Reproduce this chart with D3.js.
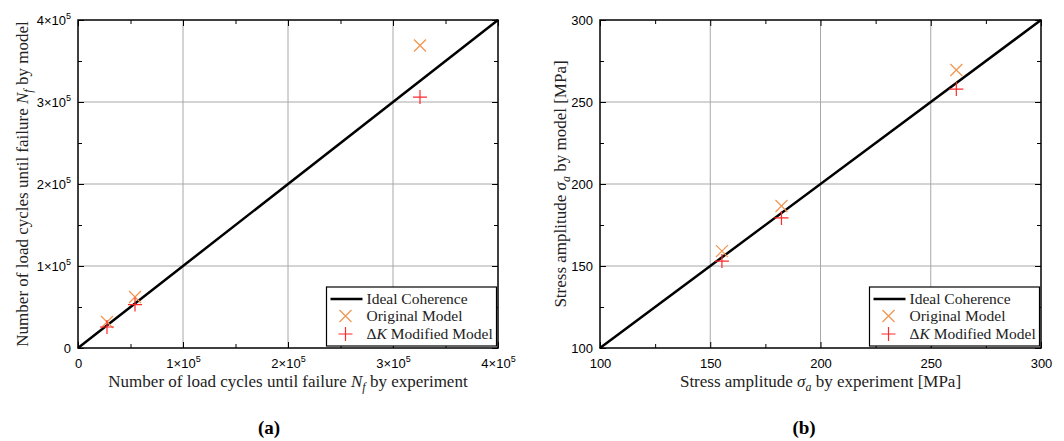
<!DOCTYPE html>
<html>
<head>
<meta charset="utf-8">
<script src="https://cdn.jsdelivr.net/npm/d3@7"></script>
<style>
  html, body { margin: 0; padding: 0; background: #fff; }
  svg { display: block; }
</style>
</head>
<body>
<svg id="chart" width="1064" height="441"></svg>
<script>
// panel (a): load cycles
const cyclesTicks = [0, 1e5, 2e5, 3e5, 4e5];
const cyclesExp = [27600, 54300, 325700];
const cyclesOriginal = [31700, 62200, 368900];
const cyclesModified = [25600, 53000, 306000];

// panel (b): stress amplitude
const stressTicks = [100, 150, 200, 250, 300];
const stressExp = [155.3, 182.3, 261.6];
const stressOriginal = [159.1, 186.6, 269.5];
const stressModified = [153.0, 179.3, 257.9];

const legendLabels = ["Ideal Coherence", "Original Model", "\u0394K Modified Model"];

const serif = "'Liberation Serif', serif";
const sans = "'Liberation Sans', Arial, sans-serif";
const orange = "#f2944f";
const red = "#ff2a2a";

const svg = d3.select("#chart");

function sciLabel(sel) {
  sel.each(function (d) {
    const t = d3.select(this);
    t.text(null);
    if (d === 0) { t.text("0"); return; }
    const exp = Math.floor(Math.log10(d));
    const mant = Math.round(d / Math.pow(10, exp));
    t.append("tspan").text(mant + "\u00d710");
    t.append("tspan").attr("dy", -6).attr("font-size", 9).text(exp);
  });
}

// text with math parts: [text, style] style: "n" normal, "i" italic, "s" italic subscript
function mathText(g, parts) {
  let sub = false;
  parts.forEach(([txt, st]) => {
    const ts = g.append("tspan").text(txt);
    if (st === "i" || st === "s") ts.attr("font-style", "italic");
    if (st === "s") { ts.attr("dy", 3.5).attr("font-size", 12); sub = true; }
    else if (sub) { ts.attr("dy", -3.5); sub = false; }
  });
}

function drawPanel(cfg) {
  const { x0, x1, y0, y1 } = cfg;
  const x = d3.scaleLinear().domain(cfg.domain).range([x0, x1]);
  const y = d3.scaleLinear().domain(cfg.domain).range([y1, y0]);
  const g = svg.append("g");
  const minor = d3.range(cfg.ticks.length - 1).map(i => (cfg.ticks[i] + cfg.ticks[i + 1]) / 2);

  // grid
  g.append("g").selectAll("line").data(cfg.ticks.slice(1, -1)).join("line")
    .attr("x1", d => x(d)).attr("x2", d => x(d)).attr("y1", y0).attr("y2", y1)
    .attr("stroke", "#a8a8a8").attr("stroke-width", 1);
  g.append("g").selectAll("line").data(cfg.ticks.slice(1, -1)).join("line")
    .attr("y1", d => y(d)).attr("y2", d => y(d)).attr("x1", x0).attr("x2", x1)
    .attr("stroke", "#a8a8a8").attr("stroke-width", 1);

  // axes with inward ticks
  const styleAxis = (a) => {
    a.select(".domain").remove();
    a.selectAll(".tick line").attr("stroke", "#000").attr("stroke-width", 1);
  };
  const bottom = g.append("g").attr("transform", `translate(0,${y1})`)
    .call(d3.axisBottom(x).tickValues(cfg.ticks).tickSizeInner(-6).tickSizeOuter(0).tickPadding(8));
  styleAxis(bottom);
  const left = g.append("g").attr("transform", `translate(${x0},0)`)
    .call(d3.axisLeft(y).tickValues(cfg.ticks).tickSizeInner(-6).tickSizeOuter(0).tickPadding(7));
  styleAxis(left);
  [bottom, left].forEach(a => a.selectAll(".tick text")
    .attr("font-family", sans).attr("font-size", 13).attr("fill", "#000"));
  if (cfg.sci) { bottom.selectAll(".tick text").call(sciLabel); left.selectAll(".tick text").call(sciLabel); }
  bottom.selectAll(".tick text").attr("dy", "0.9em");

  const top = g.append("g").attr("transform", `translate(0,${y0})`)
    .call(d3.axisTop(x).tickValues(cfg.ticks).tickSizeInner(-6).tickSizeOuter(0).tickFormat(""));
  styleAxis(top);
  const right = g.append("g").attr("transform", `translate(${x1},0)`)
    .call(d3.axisRight(y).tickValues(cfg.ticks).tickSizeInner(-6).tickSizeOuter(0).tickFormat(""));
  styleAxis(right);
  // minor ticks
  [[d3.axisBottom(x), y1], [d3.axisTop(x), y0]].forEach(([ax, pos]) => {
    styleAxis(g.append("g").attr("transform", `translate(0,${pos})`)
      .call(ax.tickValues(minor).tickSizeInner(-4).tickSizeOuter(0).tickFormat("")));
  });
  [[d3.axisLeft(y), x0], [d3.axisRight(y), x1]].forEach(([ax, pos]) => {
    styleAxis(g.append("g").attr("transform", `translate(${pos},0)`)
      .call(ax.tickValues(minor).tickSizeInner(-4).tickSizeOuter(0).tickFormat("")));
  });

  // ideal line
  g.append("path").datum(cfg.domain)
    .attr("d", d3.line().x(d => x(d)).y(d => y(d)))
    .attr("stroke", "#000").attr("stroke-width", 2.5).attr("fill", "none");

  // frame
  g.append("rect").attr("x", x0).attr("y", y0).attr("width", x1 - x0).attr("height", y1 - y0)
    .attr("fill", "none").attr("stroke", "#000").attr("stroke-width", 1.5);

  const timesPath = r => `M${-r},${-r}L${r},${r}M${-r},${r}L${r},${-r}`;
  const plusPath = r => `M${-r},0L${r},0M0,${-r}L0,${r}`;

  // markers
  g.append("g").selectAll("path").data(cfg.exp.map((e, i) => [e, cfg.orig[i]])).join("path")
    .attr("transform", d => `translate(${x(d[0])},${y(d[1])})`)
    .attr("d", timesPath(6)).attr("stroke", orange).attr("stroke-width", 1.2).attr("fill", "none");
  g.append("g").selectAll("path").data(cfg.exp.map((e, i) => [e, cfg.mod[i]])).join("path")
    .attr("transform", d => `translate(${x(d[0])},${y(d[1])})`)
    .attr("d", plusPath(7)).attr("stroke", red).attr("stroke-width", 1.2).attr("fill", "none");

  // axis titles
  const xt = g.append("text").attr("x", (x0 + x1) / 2).attr("y", 387)
    .attr("text-anchor", "middle").attr("font-family", serif).attr("font-size", 17).attr("fill", "#222");
  mathText(xt, cfg.xlabel);
  const yt = g.append("text").attr("transform", `translate(${cfg.ylabelX},${(y0 + y1) / 2}) rotate(-90)`)
    .attr("text-anchor", "middle").attr("font-family", serif).attr("font-size", 17).attr("fill", "#222");
  mathText(yt, cfg.ylabel);

  // legend
  const lx1 = x1 - 1.5, lx0 = lx1 - 170, ly0 = 287, ly1 = 346;
  const lg = g.append("g");
  lg.append("rect").attr("x", lx0).attr("y", ly0).attr("width", lx1 - lx0).attr("height", ly1 - ly0)
    .attr("fill", "#fff").attr("stroke", "#000").attr("stroke-width", 1.2);
  const rows = [299, 316, 334];
  lg.append("line").attr("x1", lx0 + 4).attr("x2", lx0 + 36).attr("y1", rows[0]).attr("y2", rows[0])
    .attr("stroke", "#000").attr("stroke-width", 2.5);
  lg.append("path").attr("transform", `translate(${lx0 + 19},${rows[1]})`).attr("d", timesPath(6))
    .attr("stroke", orange).attr("stroke-width", 1.2).attr("fill", "none");
  lg.append("path").attr("transform", `translate(${lx0 + 19},${rows[2]})`).attr("d", plusPath(7))
    .attr("stroke", red).attr("stroke-width", 1.2).attr("fill", "none");
  legendLabels.forEach((lab, i) => {
    const t = lg.append("text").attr("x", lx0 + 40).attr("y", rows[i]).attr("dy", "0.35em")
      .attr("font-family", serif).attr("font-size", 15.5).attr("fill", "#222");
    if (lab.startsWith("\u0394K")) mathText(t, [["\u0394", "n"], ["K", "i"], [lab.slice(2), "n"]]);
    else t.text(lab);
  });

  // caption
  svg.append("text").attr("x", cfg.capX).attr("y", 434).attr("text-anchor", "middle")
    .attr("font-family", serif).attr("font-weight", "bold").attr("font-size", 19)
    .attr("fill", "#000").text(cfg.caption);
}

drawPanel({
  x0: 78, x1: 498, y0: 20, y1: 348,
  domain: [cyclesTicks[0], cyclesTicks[cyclesTicks.length - 1]], ticks: cyclesTicks, sci: true,
  exp: cyclesExp, orig: cyclesOriginal, mod: cyclesModified,
  xlabel: [["Number of load cycles until failure ", "n"], ["N", "i"], ["f", "s"], [" by experiment", "n"]],
  ylabel: [["Number of load cycles until failure ", "n"], ["N", "i"], ["f", "s"], [" by model", "n"]],
  ylabelX: 28, capX: 269, caption: "(a)"
});

drawPanel({
  x0: 600, x1: 1041, y0: 20, y1: 348,
  domain: [stressTicks[0], stressTicks[stressTicks.length - 1]], ticks: stressTicks, sci: false,
  exp: stressExp, orig: stressOriginal, mod: stressModified,
  xlabel: [["Stress amplitude ", "n"], ["\u03c3", "i"], ["a", "s"], [" by experiment [MPa]", "n"]],
  ylabel: [["Stress amplitude ", "n"], ["\u03c3", "i"], ["a", "s"], [" by model [MPa]", "n"]],
  ylabelX: 566, capX: 804, caption: "(b)"
});
</script>
</body>
</html>
